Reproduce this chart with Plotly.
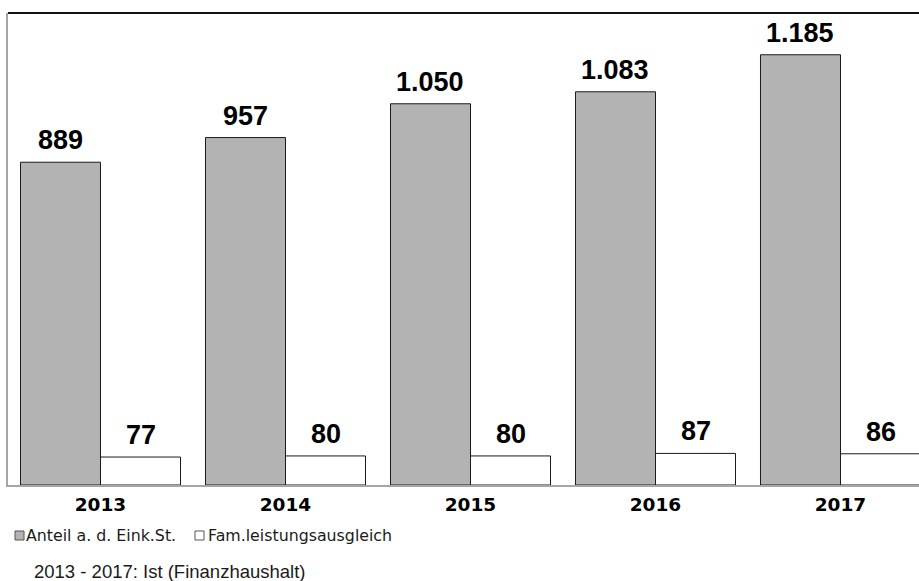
import plotly.graph_objects as go

# Values per year (in 1,000 EUR)
years = ["2013", "2014", "2015", "2016", "2017"]
anteil_est = [889, 957, 1050, 1083, 1185]
fam_ausgleich = [77, 80, 80, 87, 86]
series_names = ["Anteil a. d. Eink.St.", "Fam.leistungsausgleich"]
footnote = "2013 - 2017: Ist (Finanzhaushalt)"

W, H = 919, 581
M_L, M_R, M_T, M_B = 8, 0, 13, 96
PLOT_W = W - M_L - M_R
PLOT_H = H - M_T - M_B
CAT_PX = 185  # pixel width of one category slot
BARGAP = 0.135
Y_MAX = 1300

GRAY = "#b3b3b3"
EDGE = "#1a1a1a"
AXIS_GRAY = "#a6a6a6"


def fmt(v):
    # German thousands separator
    return f"{v:,}".replace(",", ".")


def px_x(p):
    return (p - M_L) / PLOT_W


def px_y(p):
    return 1 - (p - M_T) / PLOT_H


fig = go.Figure()
fig.add_trace(go.Bar(x=years, y=anteil_est, name=series_names[0],
                     marker=dict(color=GRAY, line=dict(color=EDGE, width=1))))
fig.add_trace(go.Bar(x=years, y=fam_ausgleich, name=series_names[1],
                     marker=dict(color="white", line=dict(color=EDGE, width=1))))

# value labels above each bar
half = (1 - BARGAP) / 4
label_font = dict(family="Liberation Sans, Arial", size=27, color="black", weight="bold")
annotations = []
for i, (a, f) in enumerate(zip(anteil_est, fam_ausgleich)):
    for off, v in ((-half, a), (half, f)):
        annotations.append(dict(x=i + off, y=v, xref="x", yref="y", text=fmt(v),
                                showarrow=False, yanchor="bottom", xanchor="center",
                                yshift=5, font=label_font))

# legend row
legend_font = dict(family="DejaVu Sans", size=15.8, color="#1a1a1a")
shapes = []
legend_items = [(15, GRAY, series_names[0], 24), (195, "white", series_names[1], 206)]
for x0, col, name, tx in legend_items:
    shapes.append(dict(type="rect", xref="paper", yref="paper",
                       x0=px_x(x0), x1=px_x(x0 + 9), y0=px_y(540), y1=px_y(531),
                       fillcolor=col, line=dict(color="#555555", width=1)))
    annotations.append(dict(x=px_x(tx), y=px_y(535), xref="paper", yref="paper",
                            text=name, showarrow=False, xanchor="left", yanchor="middle",
                            font=legend_font))

annotations.append(dict(x=px_x(32), y=px_y(571), xref="paper", yref="paper",
                        text=footnote, showarrow=False, xanchor="left", yanchor="middle",
                        font=dict(family="Liberation Sans, Arial", size=18.5, color="#1a1a1a")))

# black line along the top of the plot area
shapes.append(dict(type="line", xref="paper", yref="paper", x0=0, x1=1, y0=1, y1=1,
                   line=dict(color="#111111", width=2)))

fig.update_layout(
    width=W, height=H,
    margin=dict(l=M_L, r=M_R, t=M_T, b=M_B, pad=0),
    paper_bgcolor="white", plot_bgcolor="white",
    barmode="group", bargap=BARGAP, bargroupgap=0,
    showlegend=False,
    annotations=annotations, shapes=shapes,
    xaxis=dict(type="category", range=[-0.5, -0.5 + PLOT_W / CAT_PX],
               showline=True, linecolor=AXIS_GRAY, linewidth=2,
               ticks="outside", ticklen=2, tickcolor="rgba(0,0,0,0)",
               tickfont=dict(family="DejaVu Sans", size=18.5, color="black", weight="bold"),
               showgrid=False, zeroline=False, fixedrange=True),
    yaxis=dict(range=[0, Y_MAX], showline=True, linecolor=AXIS_GRAY, linewidth=2,
               showticklabels=False, ticks="", showgrid=False, zeroline=False),
)

fig.write_html("out.html")
